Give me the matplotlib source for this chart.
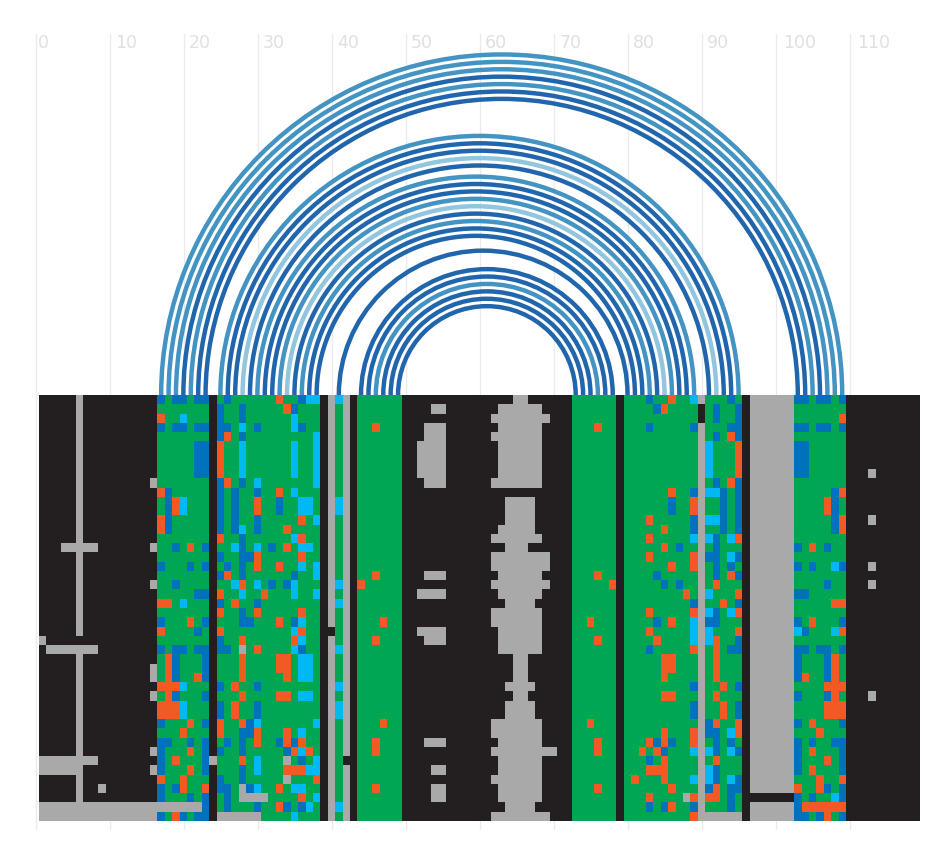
import numpy as np
import matplotlib
matplotlib.use('Agg')
import matplotlib.pyplot as plt
from matplotlib.colors import ListedColormap
from matplotlib.patches import Arc

# base pairs, 0-based column of each end, outermost first
arc_left = [16, 17, 18, 19, 20, 21, 22,
            24, 25, 26, 27, 28,
            29, 30, 31, 32, 33, 34, 35, 36, 37,
            40,
            43, 44, 45, 46, 47, 48]
arc_right = [108, 107, 106, 105, 104, 103, 102,
             94, 93, 92, 91, 90,
             88, 87, 86, 85, 84, 83, 82, 81, 80,
             79,
             77, 76, 75, 74, 73, 72]
arc_shade = ['m', 'm', 'm', 'd', 'm', 'd', 'd',
             'm', 'd', 'd', 'l', 'd',
             'm', 'd', 'd', 'm', 'l', 'd', 'm', 'd', 'd',
             'd',
             'd', 'd', 'm', 'd', 'd', 'd']
shades = {'d': '#2166ac', 'm': '#4393c3', 'l': '#92c5de'}

# what most rows look like, as column runs
base_row = '0-118K 5G 16-22g 24-37g 39G 40g 41G 43-48g 72-77g 79-88g 89G 90-94g 96-101G 102-108g'

# what differs from base_row in each row, top to bottom
row_marks = [
    '16B 18-19B 21-22B 25B 32O 35B 36-37C 40C 64-65G 82B 85O 88C 93B 102-103B 105-106B 108B',
    '24B 27B 33O 34B 53-54G 62-67G 83B 84O 89K 91B 94B',
    '16O 19C 24B 27B 34C 61-68G 89K 91B 94B 108O',
    '16B 18-19B 21-22B 24-25B 27C 29B 34C 35B 45O 52-54G 62-67G 75O 82B 88B 93-94B 102-103B 105-106B 108B',
    '24B 25O 27B 37C 52-54G 61-67G 91B 93O 94B',
    '21-22B 24O 27C 34C 37C 51-54G 62-67G 90C 94O 102-103B',
    '21-22B 24O 27C 34C 37C 51-54G 62-67G 90C 94O 102-103B',
    '21-22B 24O 27C 34C 37C 51-54G 62-67G 90C 94O 102-103B',
    '21-22B 24O 27C 34C 37C 51-54G 62-67G 90C 94O 102-103B 112G',
    '15G 24B 25O 27B 29C 37C 52-54G 61-67G 91B 93O 94B',
    '16O 17B 24B 26B 29B 32O 34C 85O 88B 90-91C 92B 94B 107B 108O',
    '17B 18O 19C 24B 26B 29O 32B 35-36C 40C 63-66G 85B 88O 92B 94B 106O 107B',
    '17B 18O 19C 24B 26B 29O 32B 35-36C 40C 63-66G 85B 88O 92B 94B 106O 107B',
    '16O 17B 24B 26B 29B 35O 37C 63-66G 82O 88B 90-91C 92B 94B 107B 108O 112G',
    '16O 17B 24B 26B 27C 29B 33O 62-66G 84O 88B 92B 94B 107B 108O',
    '24O 27B 34C 35O 61-67G 82O 88C 90C 91B 93C 94O',
    '3-7G 15G 18B 20O 22B 26C 27B 29C 31B 33O 35-36C 63-65G 84O 86B 91B 102B 104O 106B',
    '24B 27-28B 29O 35O 61-68G 82O 88O 90-91B 93C 94B',
    '16B 20B 22B 25B 27B 29O 32O 35C 37C 61-68G 85O 88O 91B 93B 102B 104B 107C 108B 112G',
    '24B 25O 27B 34B 37C 45O 52-54G 62-67G 75O 83B 91B 93O 94B',
    '15G 18B 26C 27O 29C 31B 33B 34C 40C 43O 61-68G 77O 84B 86B 91O 106B 112G',
    '21-22B 24O 27C 30O 34C 37C 51-54G 62-67G 87O 90C 94O 102-103B',
    '16-17O 19C 24B 26O 29B 40C 63-66G 88B 92O 94B 107-108O',
    '24O 27B 29O 35O 61-67G 82O 88O 90C 91B 93C 94O',
    '16B 20O 22B 27-28B 32O 34B 35C 46O 61-67G 74O 83B 85O 88C 90-91B 102B 104O 108B',
    '16O 21B 24O 34C 35O 39K 51-54G 62-67G 82O 88C 90C 94O 102C 103B 107C 108O',
    '0G 5K 24B 27O 34O 35C 45O 52-54G 62-67G 75O 83O 88C 90C 91O 94B',
    '1-7G 16B 18-19B 21-22B 24-25B 27G 29O 34C 35B 40C 62-67G 82B 88O 91O 93-94B 102-103B 105-106B 108B',
    '17O 18B 22B 27O 32-33O 35-36C 64-65G 84-85O 91O 102B 106B 107O',
    '15G 17O 18B 22B 27O 32-33O 35-36C 64-65G 84-85O 91O 102B 106B 107O',
    '15G 17O 18B 21O 22B 27O 33O 35-36C 64-65G 84O 91O 102B 103O 106B 107O',
    '16-18O 19C 24B 26O 29B 40C 63-66G 88B 92O 94B 106-108O',
    '15G 17O 18B 22B 27O 32-33O 35-36C 64-65G 84-85O 91O 102B 106B 107O 112G',
    '16-18O 19C 24B 26O 29B 40C 63-66G 88B 92O 94B 106-108O',
    '16-18O 19C 24B 26O 29B 40C 63-66G 88B 92O 94B 106-108O',
    '16B 20O 22B 24O 27O 28B 29C 37C 46O 61-67G 74O 90B 91O 94O 102B 104O 108B',
    '19O 24O 27-28B 29O 33O 35C 61-67G 84O 88O 90-91B 93C 94O 105O',
    '16-17B 20B 22B 25B 27B 29O 32B 33O 34B 35O 45O 52-54G 62-67G 75O 82O 83B 84O 85B 88O 91B 93B 102B 104B 107-108B',
    '15G 16B 20O 22B 24B 27B 33B 34O 35C 36O 45O 61-69G 75O 81O 83O 84B 88C 90C 91B 93C 94B 102B 104O 108B',
    '0-7G 16B 18O 22B 23G 27O 29C 33G 35B 37C 41K 62-67G 82B 84O 91O 102B 106O 108B',
    '0-5G 15G 16B 20O 22B 27B 29C 33-35O 36-37C 53-54G 62-67G 82-84O 90C 91B 102B 104O 108B',
    '16O 19O 24B 27B 33G 37O 61-67G 80O 84O 88C 90C 91B 93C 94B 105O 108O',
    '8G 16B 18B 19O 22O 24-25B 27G 28B 29C 32O 34-35C 45O 53-54G 62-67G 75O 85O 90B 91O 93-94B 102O 105O 106B 108B',
    '16B 20B 22B 25B 27-30G 35O 37C 53-54G 62-67G 82O 87G 88O 90-91O 93B 96-101K 102B 104B 107C 108B',
    '0-21G 22B 25B 29B 32O 33B 35B 36C 40C 63-66G 82B 84B 85O 88B 93B 102B 103-108O',
    '0-15G 16B 18O 19B 21-22B 24-29G 34C 61-68G 88O 89-94G 102-103B 105B 106O 108B',
]

cell_codes = 'KgBCOG'
cell_colors = ['#231f20', '#00a651', '#0072bc', '#00b9f2', '#f15a22', '#a9a9a9']

tick_values = [0, 10, 20, 30, 40, 50, 60, 70, 80, 90, 100, 110]


def paint(row, marks):
    for mark in marks.split():
        code = cell_codes.index(mark[-1])
        ends = mark[:-1].split('-')
        row[int(ends[0]):int(ends[-1]) + 1] = code


def build_matrix():
    matrix = np.zeros((len(row_marks), 119), dtype=int)
    for i, marks in enumerate(row_marks):
        paint(matrix[i], base_row)
        paint(matrix[i], marks)
    return matrix


def main():
    fig = plt.figure(figsize=(9.52, 8.6), dpi=100)
    ax = fig.add_axes([0, 0, 1, 1])

    # one column is 7.403 px wide, arcs sit on y=0 which is pixel row 395
    scale = 7.403
    ax.set_xlim(-35.3 / scale, (952 - 35.3) / scale)
    ax.set_ylim(-(860 - 395) / scale, 395 / scale)
    ax.axis('off')

    row_h = 426 / 46 / scale
    x_edges = np.arange(120) + 0.5
    y_edges = -np.arange(47) * row_h

    # longer labels sit a bit further from their grid line
    label_shift = {1: 0.3, 2: 0.77, 3: 1.05}
    for t in tick_values:
        label = str(t)
        ax.plot([t + 0.05, t + 0.05], [-(829 - 395) / scale, (395 - 34) / scale],
                color='#ebebeb', lw=1.0, zorder=1)
        ax.text(t + label_shift[len(label)], (395 - 48) / scale, label, color='#e0e0e0',
                fontsize=12.5, ha='left', va='baseline', zorder=2)

    for a, b, shade in zip(arc_left, arc_right, arc_shade):
        arc = Arc(((a + b) / 2 + 1, 0), b - a, b - a, theta1=0, theta2=180,
                  color=shades[shade], lw=3.2, zorder=3)
        ax.add_patch(arc)

    cmap = ListedColormap(cell_colors)
    ax.pcolormesh(x_edges, y_edges, build_matrix(), cmap=cmap, vmin=-0.5, vmax=5.5,
                  shading='flat', zorder=4)

    fig.savefig('out.png', dpi=100)


main()
